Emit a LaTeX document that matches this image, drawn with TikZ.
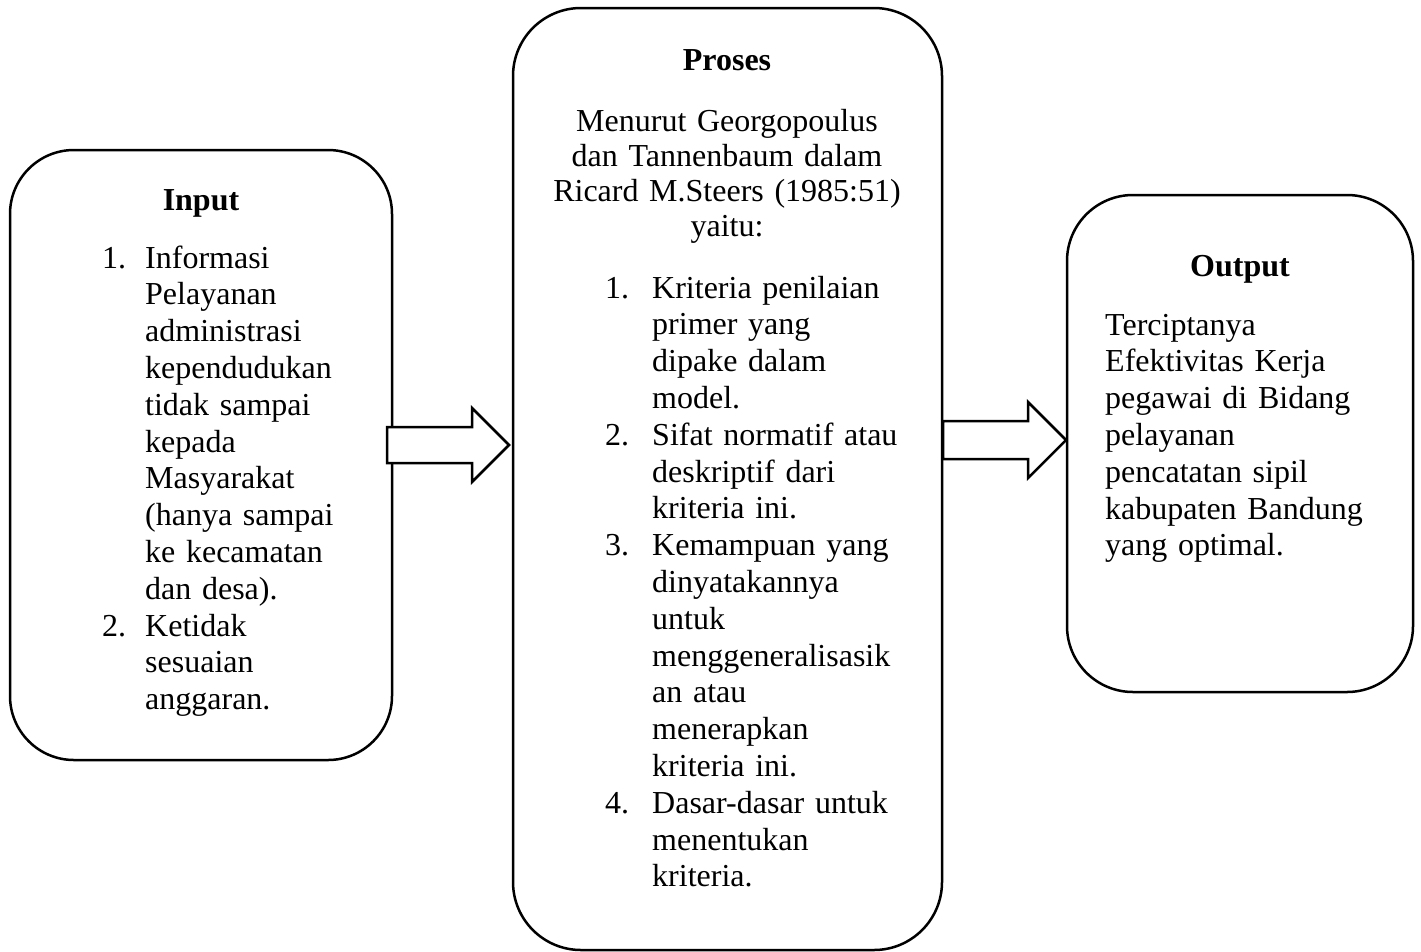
\documentclass[tikz,border=0pt]{standalone}
\usepackage{fontspec}
\setmainfont{Liberation Serif}
\begin{document}
\begin{tikzpicture}[x=1pt,y=-1pt,
  box/.style={draw,line width=2.5pt,inner sep=0pt},
  blockarrow/.style={draw,fill=white,line width=2.5pt,line join=miter},
  txt/.style={inner sep=0pt,anchor=base west,align=left,text width=320pt,font=\fontsize{32}{36.8}\selectfont},
  ctxt/.style={inner sep=0pt,anchor=base,align=center,text width=420pt,font=\fontsize{32}{35.3}\selectfont},
  head/.style={inner sep=0pt,anchor=base,font=\fontsize{32}{36.8}\selectfont\bfseries}]
\useasboundingbox (0,0) rectangle (1421,951);
\begin{scope}
\clip (0,0) rectangle (1421,951);
% boxes
\node[box,rounded corners=64pt,minimum width=382pt,minimum height=610pt] (input) at (201,455) {};
\node[box,rounded corners=68pt,minimum width=429pt,minimum height=942pt] (proses) at (727.5,479) {};
\node[box,rounded corners=66pt,minimum width=346pt,minimum height=497pt] (output) at (1240,443.5) {};
\end{scope}
% block arrows
\draw[blockarrow] (387,427) -- (472,427) -- (472,408) -- (509,445) -- (472,482) -- (472,463) -- (387,463) -- cycle;
\draw[blockarrow] (943,421) -- (1028,421) -- (1028,402) -- (1066,440) -- (1028,478) -- (1028,459) -- (943,459) -- cycle;
% Input
\node[head] (inhead) at (201,210) {Input};
\node[txt,text width=40pt] (in1n) at (102,268) {1.};
\node[txt] (in1) at (145,268) {Informasi\\Pelayanan\\administrasi\\kependudukan\\tidak sampai\\kepada\\Masyarakat\\(hanya sampai\\ke kecamatan\\dan desa).};
\node[txt,text width=40pt] (in2n) at (102,636) {2.};
\node[txt] (in2) at (145,636) {Ketidak\\sesuaian\\anggaran.};
% Proses
\node[head] (prhead) at (727,70) {Proses};
\node[ctxt] (intro) at (727,131) {Menurut Georgopoulus\\dan Tannenbaum dalam\\Ricard M.Steers (1985:51)\\yaitu:};
\node[txt,text width=40pt] (p1n) at (605,298) {1.};
\node[txt] (p1) at (652,298) {Kriteria penilaian\\primer yang\\dipake dalam\\model.};
\node[txt,text width=40pt] (p2n) at (605,445.2) {2.};
\node[txt] (p2) at (652,445.2) {Sifat normatif atau\\deskriptif dari\\kriteria ini.};
\node[txt,text width=40pt] (p3n) at (605,555.6) {3.};
\node[txt] (p3) at (652,555.6) {Kemampuan yang\\dinyatakannya\\untuk\\menggeneralisasik\\an atau\\menerapkan\\kriteria ini.};
\node[txt,text width=40pt] (p4n) at (605,813.2) {4.};
\node[txt] (p4) at (652,813.2) {Dasar-dasar untuk\\menentukan\\kriteria.};
% Output
\node[head] (outhead) at (1240,276) {Output};
\node[txt] (outtxt) at (1105,335) {Terciptanya\\Efektivitas Kerja\\pegawai di Bidang\\pelayanan\\pencatatan sipil\\kabupaten Bandung\\yang optimal.};
\end{tikzpicture}
\end{document}
